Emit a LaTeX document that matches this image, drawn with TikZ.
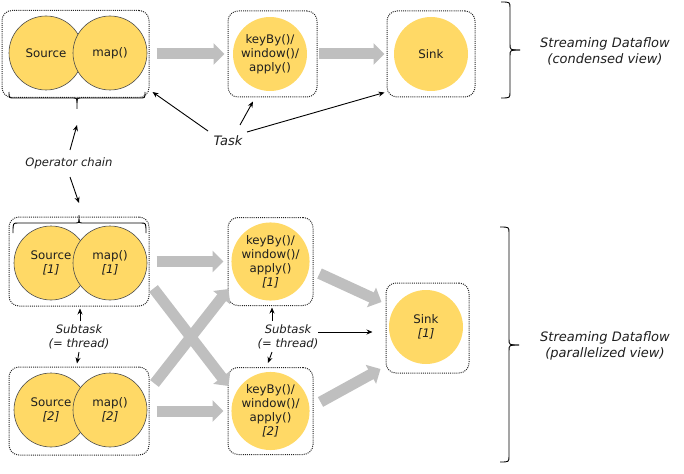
\documentclass[tikz,border=0pt]{standalone}
\usepackage{fontspec}
\setmainfont{DejaVu Sans}
\usetikzlibrary{arrows.meta}
\definecolor{opfill}{HTML}{FFD966}
\definecolor{flowgray}{HTML}{BFBFBF}
\definecolor{txt}{HTML}{1E1E1E}
\newcommand\lblfont{\fontsize{11.8}{14}\selectfont}
\newcommand\sidefont{\fontsize{13}{16}\selectfont\itshape}
\newcommand\notefont{\fontsize{11.6}{14}\selectfont\itshape}
\begin{document}
\begin{tikzpicture}[x=1pt,y=-1pt,
  taskbox/.style n args={2}{draw=black!85, dash pattern=on 1pt off 1.1pt, line width=1pt, rounded corners=10pt,
    minimum width=#1pt, minimum height=#2pt, inner sep=0pt},
  opnode/.style={circle, fill=opfill, minimum size=74pt, inner sep=0pt, align=center,
    font=\lblfont, text=txt},
  chained/.style={opnode, draw=black!70, line width=0.6pt},
  flow/.style={draw=flowgray, line width=11pt, -{Triangle[length=11pt,width=21pt]}},
  ptr/.style={draw=black, line width=0.9pt, -{Stealth[length=6pt,width=5pt]}},
  brace/.style={draw=black, line width=0.9pt},
  note/.style={font=\notefont, text=txt, align=center, inner sep=0pt},
  side/.style={font=\sidefont, text=txt, align=center, inner sep=0pt}]
\useasboundingbox (0,0) rectangle (684,473);

% ---------- condensed view ----------
\node[taskbox={147}{87}] (b1) at (75.5,54) {};
\node[taskbox={89}{86}] (b2) at (272.5,54) {};
\node[taskbox={88}{86}] (b3) at (431,54) {};
\node[chained] (src) at (46,53) {Source};
\node[chained] (map) at (110,53) {map()};
\node[opnode] (kb) at (270,54) {keyBy()/\\window()/\\apply()};
\node[opnode] (sink) at (431,54) {Sink};

\draw[flow] ([xshift=7pt]b1.east) -- ([xshift=-3pt]b2.west);
\draw[flow] ([xshift=1pt]b2.east) -- ([xshift=-2pt]b3.west);

% brace under first task
\draw[brace] (9,92) .. controls (9,98) .. (14,98) -- (72,98) .. controls (77,98) .. (77,103) -- (77,109);
\draw[brace] (77,103) .. controls (77,98) .. (82,98) -- (140,98) .. controls (145,98) .. (145,92);

% right brace top
\draw[brace] (501,2) .. controls (510,2) .. (510,8) -- (510,44) .. controls (510,50) .. (520,50);
\draw[brace] (520,50) .. controls (510,50) .. (510,56) -- (510,92) .. controls (510,98) .. (501,98);
\node[side] (lab1) at (605,51.5) {Streaming Dataflow\\(condensed view)};

% Task label
\node[font=\sidefont, text=txt, inner sep=0pt] (task) at (228,141) {Task};
\draw[ptr] ([shift={(-20,-10)}]task.center) -- ([shift={(3,-6)}]b1.south east);
\draw[ptr] ([shift={(12,-16)}]task.center) -- ([shift={(-19.5,4)}]b2.south);
\draw[ptr] ([shift={(19,-9)}]task.center) -- ([shift={(-2,-5)}]b3.south west);

% Operator chain
\node[note] (oc) at (69,163) {Operator chain};
\draw[ptr] ([shift={(1,-13)}]oc.center) -- (77,125);
\draw[ptr] ([shift={(1,14)}]oc.center) -- (79,203);

% ---------- parallelized view ----------
\node[taskbox={140}{89}] (b4) at (79,261.5) {};
\node[taskbox={140}{88}] (b5) at (79,411) {};
\node[taskbox={85}{88}] (b6) at (270.5,261.5) {};
\node[taskbox={85}{87}] (b7) at (270.5,411) {};
\node[taskbox={83}{90}] (b8) at (427.5,328) {};

\node[chained] (src1) at (51,263) {Source\\\textit{[1]}};
\node[chained] (map1) at (110,263) {map()\\\textit{[1]}};
\node[chained] (src2) at (51,410) {Source\\\textit{[2]}};
\node[chained] (map2) at (110,410) {map()\\\textit{[2]}};
\node[opnode] (kb1) at (270.5,261.5) {keyBy()/\\window()/\\apply()\\\textit{[1]}};
\node[opnode] (kb2) at (270.5,411) {keyBy()/\\window()/\\apply()\\\textit{[2]}};
\node[opnode] (sink1) at (426,327) {Sink\\\textit{[1]}};

\draw[flow] ([xshift=7pt]b4.east) -- ([xshift=-4pt]b6.west);
\draw[flow] ([xshift=7pt]b5.east) -- ([xshift=-4pt]b7.west);
\draw[flow] ([shift={(4,-18)}]b4.south east) -- ([shift={(1,19)}]b7.north west);
\draw[flow] ([shift={(5,17)}]b5.north east) -- ([shift={(1,-17)}]b6.south west);
\draw[flow] ([shift={(6,12)}]b6.east) -- ([shift={(-4,-26)}]b8.west);
\draw[flow] ([shift={(7,-9)}]b7.east) -- ([shift={(-5,41)}]b8.west);

% brace on top of first subtask
\draw[brace] (13,233) .. controls (13,223) .. (18,223) -- (74,223) .. controls (79,223) .. (79,219) -- (79,215);
\draw[brace] (79,219) .. controls (79,223) .. (84,223) -- (141,223) .. controls (146,223) .. (146,233);

% right brace bottom
\draw[brace] (500,227) .. controls (509,227) .. (509,233) -- (509,339) .. controls (509,345) .. (519,345);
\draw[brace] (519,345) .. controls (509,345) .. (509,351) -- (509,456) .. controls (509,462) .. (500,462);
\node[side] (lab2) at (605,345.5) {Streaming Dataflow\\(parallelized view)};

% Subtask labels
\node[note] (st1) at (79,337) {Subtask\\(= thread)};
\draw[ptr] ([shift={(1,-16)}]st1.center) -- ([shift={(1,2)}]b4.south);
\draw[ptr] ([shift={(0,15)}]st1.center) -- ([shift={(-2,-3)}]b5.north);

\node[note] (st2) at (288,337) {Subtask\\(= thread)};
\draw[ptr] ([shift={(-16,-16)}]st2.center) -- ([shift={(1.5,1.5)}]b6.south);
\draw[ptr] ([shift={(-16,15)}]st2.center) -- ([shift={(-2.5,-4)}]b7.north);
\draw[ptr] ([shift={(30,-5)}]st2.center) -- ([shift={(-13,4)}]b8.west);
\end{tikzpicture}
\end{document}
